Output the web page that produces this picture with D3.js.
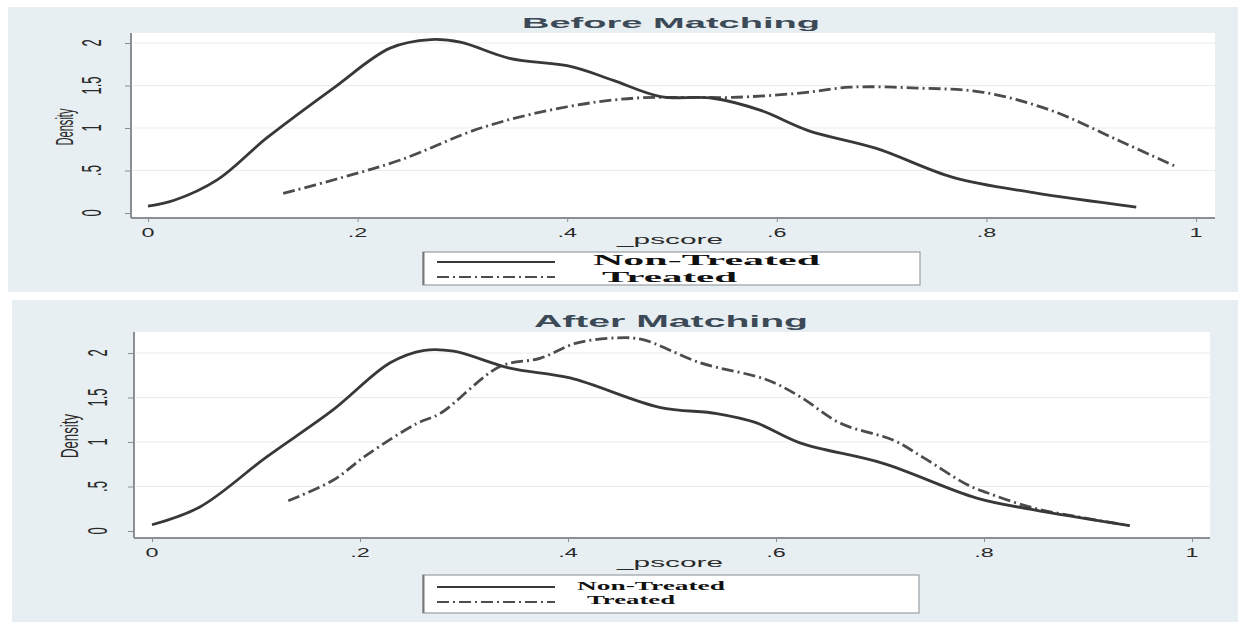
<!DOCTYPE html>
<html>
<head>
<meta charset="utf-8">
<script src="https://cdn.jsdelivr.net/npm/d3@7"></script>
<style>
  html, body { margin: 0; padding: 0; background: #ffffff; }
  svg { display: block; }
</style>
</head>
<body>
<svg id="chart" width="1238" height="624"></svg>
<script>
// ---------------- DATA ----------------
const xTickValues = [0, 0.2, 0.4, 0.6, 0.8, 1];
const xTickLabels = ["0", ".2", ".4", ".6", ".8", "1"];
const yTickValues = [0, 0.5, 1, 1.5, 2];
const yTickLabels = ["0", ".5", "1", "1.5", "2"];
const seriesNames = ["Non-Treated", "Treated"];
const panelTitles = ["Before Matching", "After Matching"];

// Before matching
const beforeNonTreatedX = [0, 0.025, 0.066, 0.113, 0.177, 0.231, 0.27, 0.298, 0.345, 0.405, 0.444, 0.489, 0.539, 0.584, 0.63, 0.695, 0.768, 0.845, 0.943];
const beforeNonTreatedY = [0.08, 0.15, 0.39, 0.88, 1.47, 1.94, 2.04, 2.01, 1.82, 1.72, 1.56, 1.37, 1.35, 1.21, 0.97, 0.76, 0.42, 0.24, 0.07];
const beforeTreatedX = [0.129, 0.18, 0.24, 0.32, 0.40, 0.463, 0.52, 0.558, 0.622, 0.67, 0.734, 0.797, 0.861, 0.925, 0.98];
const beforeTreatedY = [0.23, 0.40, 0.62, 1.01, 1.25, 1.35, 1.36, 1.36, 1.41, 1.48, 1.47, 1.42, 1.21, 0.86, 0.55];

// After matching
const afterNonTreatedX = [0, 0.046, 0.11, 0.174, 0.229, 0.262, 0.29, 0.344, 0.402, 0.488, 0.543, 0.58, 0.623, 0.703, 0.793, 0.847, 0.94];
const afterNonTreatedY = [0.07, 0.27, 0.83, 1.36, 1.89, 2.03, 2.02, 1.83, 1.72, 1.39, 1.32, 1.22, 0.99, 0.76, 0.37, 0.24, 0.06];
const afterTreatedX = [0.131, 0.174, 0.206, 0.255, 0.277, 0.335, 0.373, 0.408, 0.447, 0.472, 0.527, 0.591, 0.623, 0.662, 0.713, 0.741, 0.784, 0.803, 0.847, 0.89, 0.94];
const afterTreatedY = [0.34, 0.57, 0.85, 1.21, 1.32, 1.85, 1.94, 2.11, 2.17, 2.15, 1.89, 1.70, 1.51, 1.21, 1.02, 0.83, 0.52, 0.43, 0.26, 0.16, 0.06];

// ---------------- LAYOUT ----------------
const panels = [
  {
    title: panelTitles[0],
    outer: {x: 8, y: 7, w: 1230, h: 285},
    plot: {x0: 131, x1: 1215, y0: 33, y1: 218},
    xRange: [148, 1196], yRange: [213, 43],
    titleY: 28, titleSize: 14, titleLen: 298,
    xTickY: 237, xLabelY: 244,
    yTickX: 101, yLabelX: 73, yLabelLen: 37, yLabelCY: 127,
    legend: {x: 423, y: 252, w: 497, h: 33, l1: 262, l2: 277, t1: 265, t2: 282, tx1: 593, tx2: 602, size: 15, len1: 227, len2: 135},
    nt: [beforeNonTreatedX, beforeNonTreatedY],
    tr: [beforeTreatedX, beforeTreatedY]
  },
  {
    title: panelTitles[1],
    outer: {x: 12, y: 300, w: 1226, h: 322},
    plot: {x0: 134, x1: 1210, y0: 332, y1: 538},
    xRange: [152, 1192], yRange: [531, 353],
    titleY: 327, titleSize: 17, titleLen: 274,
    xTickY: 557, xLabelY: 567,
    yTickX: 107, yLabelX: 78, yLabelLen: 44, yLabelCY: 436,
    legend: {x: 423, y: 575, w: 496, h: 38, l1: 587, l2: 602, t1: 590, t2: 604, tx1: 577, tx2: 587, size: 12, len1: 148, len2: 88},
    nt: [afterNonTreatedX, afterNonTreatedY],
    tr: [afterTreatedX, afterTreatedY]
  }
];

const svg = d3.select("#chart");
const bg = "#e8eff2";
const axisColor = "#8a8f94";
const textColor = "#2a2a2a";
const solidColor = "#383838";
const dashColor = "#4c4c4c";
const dashPattern = "12,4,2,4";

panels.forEach(p => {
  const g = svg.append("g");
  g.append("rect")
    .attr("x", p.outer.x).attr("y", p.outer.y)
    .attr("width", p.outer.w).attr("height", p.outer.h)
    .attr("fill", bg);
  g.append("rect")
    .attr("x", p.plot.x0).attr("y", p.plot.y0)
    .attr("width", p.plot.x1 - p.plot.x0).attr("height", p.plot.y1 - p.plot.y0)
    .attr("fill", "#ffffff");

  const x = d3.scaleLinear().domain([0, 1]).range(p.xRange);
  const y = d3.scaleLinear().domain([0, 2]).range(p.yRange);

  // gridlines
  g.append("g").selectAll("line").data(yTickValues.filter(v => v > 0)).join("line")
    .attr("x1", p.plot.x0 + 2).attr("x2", p.plot.x1)
    .attr("y1", d => y(d)).attr("y2", d => y(d))
    .attr("stroke", "#e6edf0").attr("stroke-width", 1.2);

  // y axis
  const yAxis = d3.axisLeft(y).tickValues(yTickValues).tickSize(6).tickFormat(() => "");
  const ya = g.append("g").attr("transform", `translate(${p.plot.x0},0)`).call(yAxis);
  ya.select(".domain").remove();
  ya.selectAll(".tick line").attr("stroke", axisColor).attr("stroke-width", 1);
  g.append("line")
    .attr("x1", p.plot.x0).attr("x2", p.plot.x0)
    .attr("y1", p.plot.y0).attr("y2", p.plot.y1)
    .attr("stroke", axisColor).attr("stroke-width", 2);

  // x axis
  const xAxis = d3.axisBottom(x).tickValues(xTickValues).tickSize(4).tickFormat(() => "");
  const xa = g.append("g").attr("transform", `translate(0,${p.plot.y1})`).call(xAxis);
  xa.select(".domain").remove();
  xa.selectAll(".tick line").attr("stroke", axisColor).attr("stroke-width", 1);
  g.append("line")
    .attr("x1", p.plot.x0).attr("x2", p.plot.x1)
    .attr("y1", p.plot.y1).attr("y2", p.plot.y1)
    .attr("stroke", axisColor).attr("stroke-width", 2);

  // x tick labels (horizontally stretched)
  g.append("g").selectAll("text").data(xTickValues).join("text")
    .attr("transform", d => `translate(${x(d)},${p.xTickY}) scale(1.8,1)`)
    .attr("text-anchor", "middle")
    .attr("font-family", "Liberation Sans, Arial, sans-serif")
    .attr("font-size", 13)
    .attr("fill", textColor)
    .text((d, i) => xTickLabels[i]);

  // y tick labels (rotated, stretched)
  g.append("g").selectAll("text").data(yTickValues).join("text")
    .attr("transform", d => `translate(${p.yTickX},${y(d)}) scale(2.1,1) rotate(-90)`)
    .attr("text-anchor", "middle")
    .attr("font-family", "Liberation Sans, Arial, sans-serif")
    .attr("font-size", 13)
    .attr("fill", textColor)
    .text((d, i) => yTickLabels[i]);

  // y label
  g.append("text")
    .attr("transform", `translate(${p.yLabelX},${p.yLabelCY}) scale(2.0,1) rotate(-90)`)
    .attr("text-anchor", "middle")
    .attr("font-family", "Liberation Sans, Arial, sans-serif")
    .attr("font-size", 12)
    .attr("textLength", p.yLabelLen)
    .attr("lengthAdjust", "spacingAndGlyphs")
    .attr("fill", textColor)
    .text("Density");

  // x label
  g.append("text")
    .attr("x", 670).attr("y", p.xLabelY)
    .attr("text-anchor", "middle")
    .attr("font-family", "Liberation Sans, Arial, sans-serif")
    .attr("font-size", 13)
    .attr("textLength", 106)
    .attr("lengthAdjust", "spacingAndGlyphs")
    .attr("fill", textColor)
    .text("_pscore");

  // title
  g.append("text")
    .attr("x", 671).attr("y", p.titleY)
    .attr("text-anchor", "middle")
    .attr("font-family", "Liberation Sans, Arial, sans-serif")
    .attr("font-weight", "bold")
    .attr("font-size", p.titleSize)
    .attr("textLength", p.titleLen)
    .attr("lengthAdjust", "spacingAndGlyphs")
    .attr("fill", "#3c4957")
    .text(p.title);

  // curves
  const line = d3.line().x(d => x(d[0])).y(d => y(d[1])).curve(d3.curveCatmullRom.alpha(0.5));
  const ntData = p.nt[0].map((v, i) => [v, p.nt[1][i]]);
  const trData = p.tr[0].map((v, i) => [v, p.tr[1][i]]);
  g.append("path").datum(trData)
    .attr("d", line).attr("fill", "none")
    .attr("stroke", dashColor).attr("stroke-width", 2.8)
    .attr("stroke-dasharray", dashPattern);
  g.append("path").datum(ntData)
    .attr("d", line).attr("fill", "none")
    .attr("stroke", solidColor).attr("stroke-width", 2.8);

  // legend
  const L = p.legend;
  g.append("rect")
    .attr("x", L.x).attr("y", L.y).attr("width", L.w).attr("height", L.h)
    .attr("fill", "#ffffff").attr("stroke", "#9a9ea2").attr("stroke-width", 1.2);
  g.append("line").attr("x1", L.x + 0.5).attr("x2", L.x + 0.5).attr("y1", L.y).attr("y2", L.y + L.h)
    .attr("stroke", "#777").attr("stroke-width", 2);
  g.append("line").attr("x1", 437).attr("x2", 555).attr("y1", L.l1).attr("y2", L.l1)
    .attr("stroke", solidColor).attr("stroke-width", 2.2);
  g.append("line").attr("x1", 437).attr("x2", 555).attr("y1", L.l2).attr("y2", L.l2)
    .attr("stroke", dashColor).attr("stroke-width", 2.2).attr("stroke-dasharray", dashPattern);
  g.append("text")
    .attr("x", L.tx1).attr("y", L.t1)
    .attr("font-family", "Liberation Serif, Times New Roman, serif")
    .attr("font-weight", "bold").attr("font-size", L.size)
    .attr("textLength", L.len1).attr("lengthAdjust", "spacingAndGlyphs")
    .attr("fill", "#111")
    .text(seriesNames[0]);
  g.append("text")
    .attr("x", L.tx2).attr("y", L.t2)
    .attr("font-family", "Liberation Serif, Times New Roman, serif")
    .attr("font-weight", "bold").attr("font-size", L.size)
    .attr("textLength", L.len2).attr("lengthAdjust", "spacingAndGlyphs")
    .attr("fill", "#111")
    .text(seriesNames[1]);
});
</script>
</body>
</html>
